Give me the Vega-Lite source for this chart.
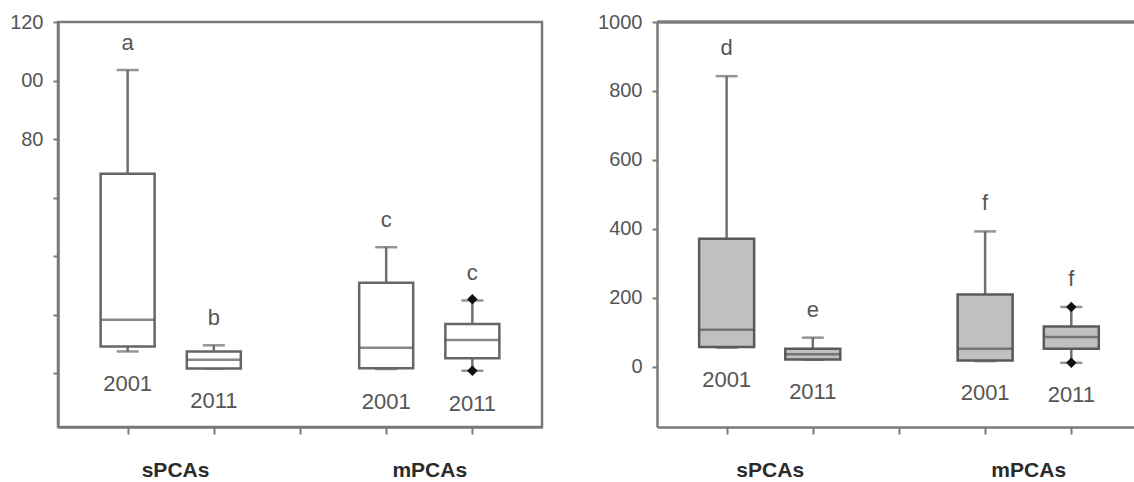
{
  "$schema": "https://vega.github.io/schema/vega-lite/v6.json",
  "padding": {"left": 8, "top": 10, "right": 0, "bottom": 0},
  "background": "white",
  "spacing": 53,
  "config": {
    "font": "Liberation Sans, Arial, sans-serif",
    "view": {"stroke": "#7a7a7a", "strokeWidth": 2.5},
    "axis": {
      "grid": false,
      "domainColor": "#7a7a7a",
      "domainWidth": 2.5,
      "tickColor": "#7a7a7a",
      "tickWidth": 2,
      "labelColor": "#555555",
      "labelFont": "Liberation Sans, Arial, sans-serif",
      "labelOverlap": false,
      "labelFlush": false
    }
  },
  "datasets": {
    "leftBoxes": [
      {"group": "sPCAs", "year": "2001", "pos": 1, "lower": 7.5, "q1": 9.2, "median": 18.3, "q3": 68.2, "upper": 103.6, "letter": "a"},
      {"group": "sPCAs", "year": "2011", "pos": 2, "lower": 1.7, "q1": 1.7, "median": 4.7, "q3": 7.5, "upper": 9.6, "letter": "b"},
      {"group": "mPCAs", "year": "2001", "pos": 4, "lower": 1.5, "q1": 1.8, "median": 8.8, "q3": 31.0, "upper": 43.1, "letter": "c"},
      {"group": "mPCAs", "year": "2011", "pos": 5, "lower": 0.9, "q1": 5.2, "median": 11.4, "q3": 16.9, "upper": 24.9, "letter": "c"}
    ],
    "leftOut": [
      {"pos": 5, "value": 0.9},
      {"pos": 5, "value": 25.3}
    ],
    "rightBoxes": [
      {"group": "sPCAs", "year": "2001", "pos": 1, "lower": 56, "q1": 58, "median": 108, "q3": 372, "upper": 843, "letter": "d"},
      {"group": "sPCAs", "year": "2011", "pos": 2, "lower": 21, "q1": 21.5, "median": 37, "q3": 53, "upper": 85, "letter": "e"},
      {"group": "mPCAs", "year": "2001", "pos": 4, "lower": 17, "q1": 19, "median": 53, "q3": 210, "upper": 393, "letter": "f"},
      {"group": "mPCAs", "year": "2011", "pos": 5, "lower": 12, "q1": 53, "median": 87, "q3": 117, "upper": 174, "letter": "f"}
    ],
    "rightOut": [
      {"pos": 5, "value": 12},
      {"pos": 5, "value": 174}
    ]
  },
  "hconcat": [
    {
      "width": 484,
      "height": 405,
      "encoding": {
        "x": {
          "field": "pos", "type": "quantitative",
          "scale": {"domain": [0.25, 5.75], "nice": false, "zero": false},
          "axis": {
            "title": null,
            "values": [1, 1.55, 2, 3, 4, 4.5, 5],
            "labelExpr": "datum.value == 1.55 ? 'sPCAs' : datum.value == 4.5 ? 'mPCAs' : ''",
            "tickOpacity": {"condition": {"test": "datum.value == 1.55 || datum.value == 4.5", "value": 0}, "value": 1},
            "tickSize": 7,
            "labelPadding": 25,
            "labelFontSize": 21,
            "labelFontWeight": "bold",
            "labelColor": "#2b2b2b"
          }
        }
      },
      "layer": [
        {
          "data": {"name": "leftBoxes"},
          "mark": {"type": "rule", "color": "#707070", "strokeWidth": 2.5},
          "encoding": {
            "y": {"field": "lower", "type": "quantitative", "scale": {"domain": [-18.3, 120], "nice": false, "zero": false},
              "axis": {"title": null, "values": [0, 20, 40, 60, 80, 100, 120],
                "labelExpr": "datum.value == 120 ? '120' : datum.value == 100 ? '00' : datum.value == 80 ? '80' : ''",
                "tickSize": 5, "labelPadding": 10, "labelFontSize": 20}},
            "y2": {"field": "upper"}
          }
        },
        {
          "data": {"name": "leftBoxes"},
          "mark": {"type": "tick", "orient": "horizontal", "size": 22, "thickness": 2.5, "color": "#666666"},
          "encoding": {"y": {"field": "upper", "type": "quantitative", "scale": {"domain": [-18.3, 120], "nice": false, "zero": false}}}
        },
        {
          "data": {"name": "leftBoxes"},
          "mark": {"type": "tick", "orient": "horizontal", "size": 22, "thickness": 2.5, "color": "#666666"},
          "encoding": {"y": {"field": "lower", "type": "quantitative", "scale": {"domain": [-18.3, 120], "nice": false, "zero": false}}}
        },
        {
          "data": {"name": "leftBoxes"},
          "mark": {"type": "bar", "width": 54, "fill": "white", "stroke": "#666666", "strokeWidth": 2.5},
          "encoding": {
            "y": {"field": "q1", "type": "quantitative", "scale": {"domain": [-18.3, 120], "nice": false, "zero": false}},
            "y2": {"field": "q3"}
          }
        },
        {
          "data": {"name": "leftBoxes"},
          "mark": {"type": "tick", "orient": "horizontal", "size": 54, "thickness": 2.5, "color": "#555555"},
          "encoding": {"y": {"field": "median", "type": "quantitative", "scale": {"domain": [-18.3, 120], "nice": false, "zero": false}}}
        },
        {
          "data": {"name": "leftOut"},
          "mark": {"type": "point", "shape": "diamond", "filled": true, "color": "#111111", "size": 110, "opacity": 1},
          "encoding": {"y": {"field": "value", "type": "quantitative", "scale": {"domain": [-18.3, 120], "nice": false, "zero": false}}}
        },
        {
          "data": {"name": "leftBoxes"},
          "mark": {"type": "text", "dy": -27, "fontSize": 22, "color": "#555555", "baseline": "middle", "align": "center"},
          "encoding": {
            "y": {"field": "upper", "type": "quantitative", "scale": {"domain": [-18.3, 120], "nice": false, "zero": false}},
            "text": {"field": "letter"}
          }
        },
        {
          "data": {"name": "leftBoxes"},
          "mark": {"type": "text", "dy": 33, "fontSize": 22, "color": "#555555", "baseline": "middle", "align": "center"},
          "encoding": {
            "y": {"field": "lower", "type": "quantitative", "scale": {"domain": [-18.3, 120], "nice": false, "zero": false}},
            "text": {"field": "year"}
          }
        }
      ]
    },
    {
      "width": 481,
      "height": 405,
      "view": {"stroke": null},
      "encoding": {
        "x": {
          "field": "pos", "type": "quantitative",
          "scale": {"domain": [0.25, 5.716], "nice": false, "zero": false},
          "axis": {
            "title": null,
            "values": [1, 1.5, 2, 3, 4, 4.5, 5],
            "labelExpr": "datum.value == 1.5 ? 'sPCAs' : datum.value == 4.5 ? 'mPCAs' : ''",
            "tickOpacity": {"condition": {"test": "datum.value == 1.5 || datum.value == 4.5", "value": 0}, "value": 1},
            "tickSize": 7,
            "labelPadding": 25,
            "labelFontSize": 21,
            "labelFontWeight": "bold",
            "labelColor": "#2b2b2b"
          }
        }
      },
      "layer": [
        {
          "data": {"name": "rightBoxes"},
          "mark": {"type": "rule", "color": "#707070", "strokeWidth": 2.5},
          "encoding": {
            "y": {"field": "lower", "type": "quantitative", "scale": {"domain": [-174, 1000], "nice": false, "zero": false},
              "axis": {"title": null, "values": [0, 200, 400, 600, 800, 1000], "format": "d",
                "tickSize": 5, "labelPadding": 10, "labelFontSize": 20}},
            "y2": {"field": "upper"}
          }
        },
        {
          "data": {"name": "rightBoxes"},
          "mark": {"type": "rule", "color": "#7a7a7a", "strokeWidth": 2.5},
          "encoding": {
            "x": null,
            "y": {"datum": 1000, "type": "quantitative", "scale": {"domain": [-174, 1000], "nice": false, "zero": false}}
          }
        },
        {
          "data": {"name": "rightBoxes"},
          "mark": {"type": "tick", "orient": "horizontal", "size": 22, "thickness": 2.5, "color": "#666666"},
          "encoding": {"y": {"field": "upper", "type": "quantitative", "scale": {"domain": [-174, 1000], "nice": false, "zero": false}}}
        },
        {
          "data": {"name": "rightBoxes"},
          "mark": {"type": "tick", "orient": "horizontal", "size": 22, "thickness": 2.5, "color": "#666666"},
          "encoding": {"y": {"field": "lower", "type": "quantitative", "scale": {"domain": [-174, 1000], "nice": false, "zero": false}}}
        },
        {
          "data": {"name": "rightBoxes"},
          "mark": {"type": "bar", "width": 55, "fill": "#c0c0c0", "stroke": "#5a5a5a", "strokeWidth": 2.5},
          "encoding": {
            "y": {"field": "q1", "type": "quantitative", "scale": {"domain": [-174, 1000], "nice": false, "zero": false}},
            "y2": {"field": "q3"}
          }
        },
        {
          "data": {"name": "rightBoxes"},
          "mark": {"type": "tick", "orient": "horizontal", "size": 55, "thickness": 2.5, "color": "#555555"},
          "encoding": {"y": {"field": "median", "type": "quantitative", "scale": {"domain": [-174, 1000], "nice": false, "zero": false}}}
        },
        {
          "data": {"name": "rightOut"},
          "mark": {"type": "point", "shape": "diamond", "filled": true, "color": "#111111", "size": 110, "opacity": 1},
          "encoding": {"y": {"field": "value", "type": "quantitative", "scale": {"domain": [-174, 1000], "nice": false, "zero": false}}}
        },
        {
          "data": {"name": "rightBoxes"},
          "mark": {"type": "text", "dy": -28, "fontSize": 22, "color": "#555555", "baseline": "middle", "align": "center"},
          "encoding": {
            "y": {"field": "upper", "type": "quantitative", "scale": {"domain": [-174, 1000], "nice": false, "zero": false}},
            "text": {"field": "letter"}
          }
        },
        {
          "data": {"name": "rightBoxes"},
          "mark": {"type": "text", "dy": 32, "fontSize": 22, "color": "#555555", "baseline": "middle", "align": "center"},
          "encoding": {
            "y": {"field": "lower", "type": "quantitative", "scale": {"domain": [-174, 1000], "nice": false, "zero": false}},
            "text": {"field": "year"}
          }
        }
      ]
    }
  ]
}
